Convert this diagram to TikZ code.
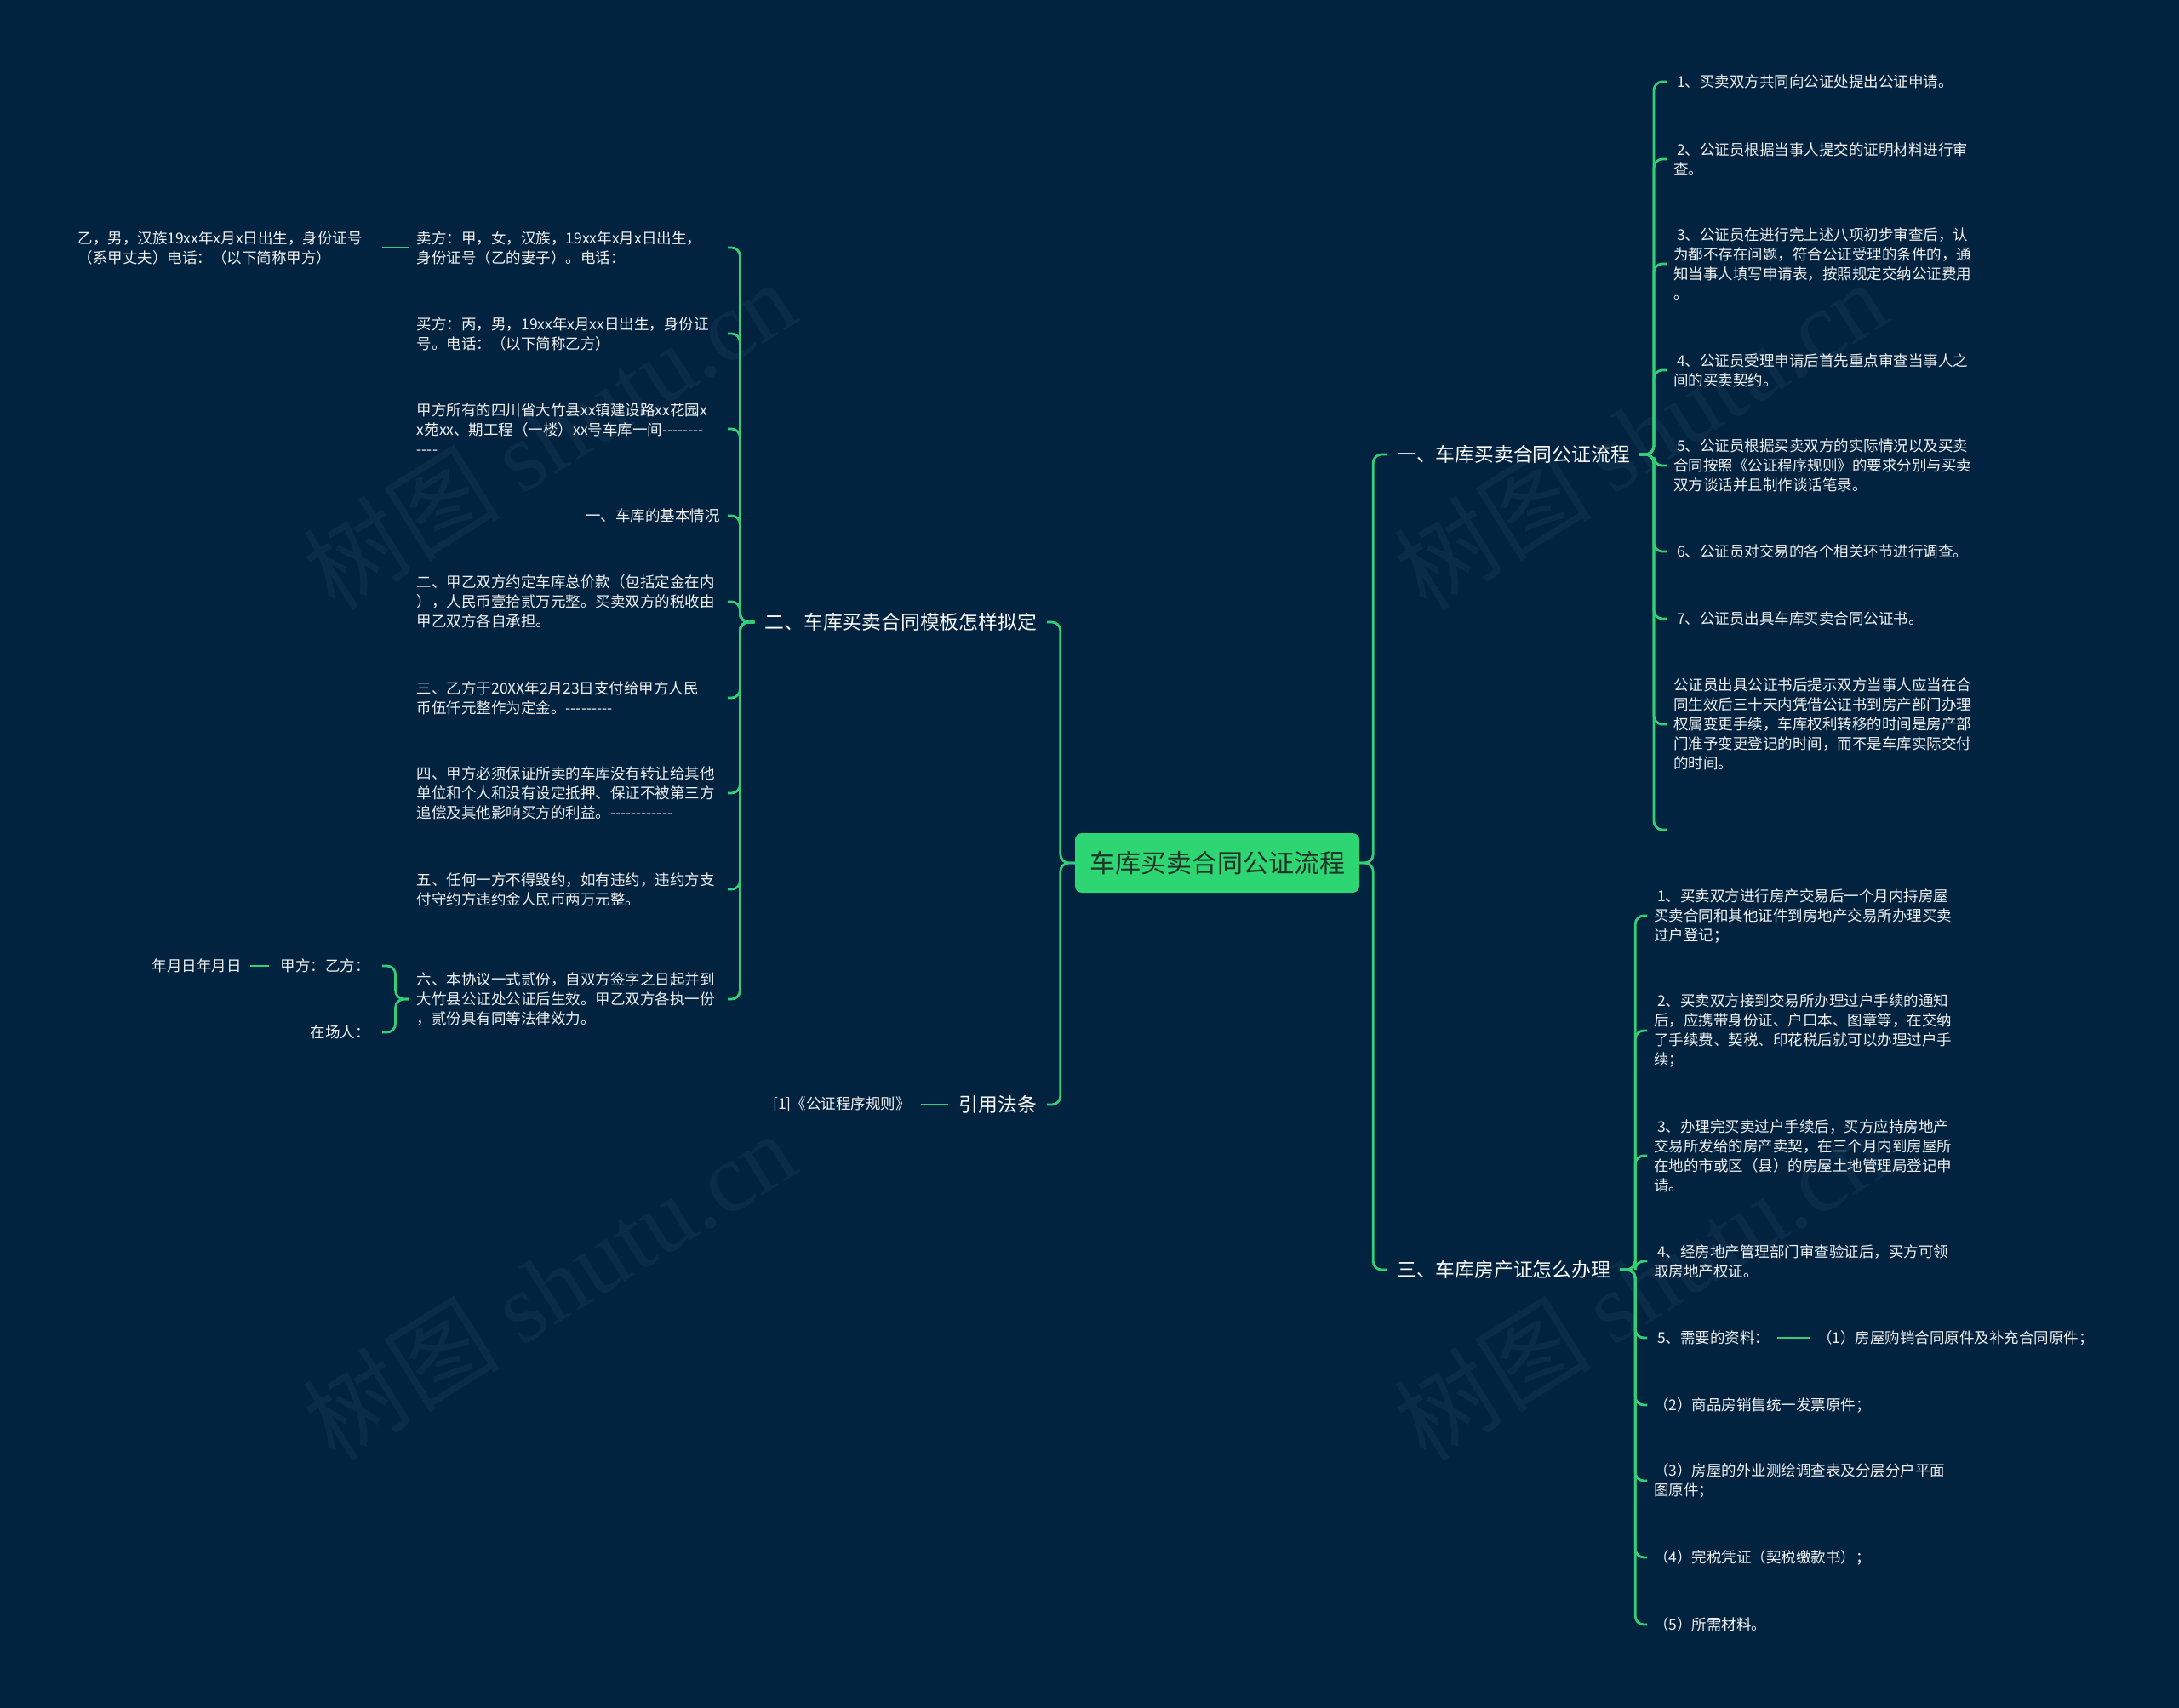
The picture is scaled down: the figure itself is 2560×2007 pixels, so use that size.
\documentclass[tikz,border=0pt]{standalone}
\usepackage{fontspec}
\setmainfont{Noto Sans CJK SC}[Ligatures=TeXOff]
\newfontfamily\wmfont{Liberation Serif}
\definecolor{bg}{RGB}{1,35,64}
\definecolor{ln}{RGB}{52,205,120}
\definecolor{rootfill}{RGB}{46,213,115}
\definecolor{roottext}{RGB}{30,52,40}
\definecolor{txt}{RGB}{240,240,240}
\tikzset{
  conn/.style={draw=ln, line width=2.8pt, rounded corners=10pt},
  leaf/.style={text=txt, font=\fontsize{17.5}{23}\selectfont, inner ysep=2pt, align=left},
  leafR/.style={leaf, anchor=west, inner xsep=8pt},
  leafL/.style={leaf, anchor=east, inner xsep=9pt, text width=356pt},
  leafLs/.style={leaf, anchor=east, inner xsep=9pt},
  leafS/.style={leaf, anchor=east, inner xsep=14pt},
  lvl/.style={text=white, font=\fontsize{22.8}{28}\selectfont, inner ysep=3pt},
  rootbox/.style={fill=rootfill, text=roottext, rounded corners=8pt, minimum width=334pt, minimum height=70pt, font=\fontsize{30}{36}\selectfont, inner sep=0pt},
  wm/.style={text=white, opacity=0.045, font=\fontsize{116}{116}\selectfont, rotate=32}
}
\begin{document}
\begin{tikzpicture}[x=1pt, y=-1pt]
\useasboundingbox (0,0) rectangle (2560,2007);
\fill[bg] (0,0) rectangle (2560,2007);

% watermarks
\node[wm] (w1) at (645,510) {树图 {\wmfont shutu.cn}};
\node[wm] (w2) at (645,1510) {树图 {\wmfont shutu.cn}};
\node[wm] (w3) at (1927,510) {树图 {\wmfont shutu.cn}};
\node[wm] (w4) at (1927,1510) {树图 {\wmfont shutu.cn}};

% root
\node[rootbox] (root) at (1430,1014) {车库买卖合同公证流程};

% level 1
\node[lvl, anchor=west, inner xsep=11pt] (L1) at (1630,534) {一、车库买卖合同公证流程};
\node[lvl, anchor=west, inner xsep=11pt] (L3) at (1630,1492) {三、车库房产证怎么办理};
\node[lvl, anchor=east, inner xsep=12pt] (L2) at (1230,731) {二、车库买卖合同模板怎样拟定};
\node[lvl, anchor=east, inner xsep=12pt] (Lr) at (1230,1298) {引用法条};

% branch 一
\node[leafR] (r1) at (1958,96) {\hspace{4pt}1、买卖双方共同向公证处提出公证申请。};
\node[leafR] (r2) at (1958,187) {\hspace{4pt}2、公证员根据当事人提交的证明材料进行审\\查。};
\node[leafR] (r3) at (1958,310) {\hspace{4pt}3、公证员在进行完上述八项初步审查后，认\\为都不存在问题，符合公证受理的条件的，通\\知当事人填写申请表，按照规定交纳公证费用\\。};
\node[leafR] (r4) at (1958,435) {\hspace{4pt}4、公证员受理申请后首先重点审查当事人之\\间的买卖契约。};
\node[leafR] (r5) at (1958,547) {\hspace{4pt}5、公证员根据买卖双方的实际情况以及买卖\\合同按照《公证程序规则》的要求分别与买卖\\双方谈话并且制作谈话笔录。};
\node[leafR] (r6) at (1958,648) {\hspace{4pt}6、公证员对交易的各个相关环节进行调查。};
\node[leafR] (r7) at (1958,727) {\hspace{4pt}7、公证员出具车库买卖合同公证书。};
\node[leafR] (r8) at (1958,851) {公证员出具公证书后提示双方当事人应当在合\\同生效后三十天内凭借公证书到房产部门办理\\权属变更手续，车库权利转移的时间是房产部\\门准予变更登记的时间，而不是车库实际交付\\的时间。};
\coordinate (r9) at (1958,975);

% branch 三
\node[leafR] (s1) at (1935,1076) {\hspace{4pt}1、买卖双方进行房产交易后一个月内持房屋\\买卖合同和其他证件到房地产交易所办理买卖\\过户登记；};
\node[leafR] (s2) at (1935,1211) {\hspace{4pt}2、买卖双方接到交易所办理过户手续的通知\\后，应携带身份证、户口本、图章等，在交纳\\了手续费、契税、印花税后就可以办理过户手\\续；};
\node[leafR] (s3) at (1935,1358) {\hspace{4pt}3、办理完买卖过户手续后，买方应持房地产\\交易所发给的房产卖契，在三个月内到房屋所\\在地的市或区（县）的房屋土地管理局登记申\\请。};
\node[leafR] (s4) at (1935,1482) {\hspace{4pt}4、经房地产管理部门审查验证后，买方可领\\取房地产权证。};
\node[leafR] (s5) at (1935,1572) {\hspace{4pt}5、需要的资料：};
\node[leafR] (s5a) at (2127,1572) {（1）房屋购销合同原件及补充合同原件；};
\node[leafR] (s6) at (1935,1651) {（2）商品房销售统一发票原件；};
\node[leafR] (s7) at (1935,1740) {（3）房屋的外业测绘调查表及分层分户平面\\图原件；};
\node[leafR] (s8) at (1935,1830) {（4）完税凭证（契税缴款书）；};
\node[leafR] (s9) at (1935,1909) {（5）所需材料。};

% branch 二
\node[leafL] (c1) at (855,291) {卖方：甲，女，汉族，19xx年x月x日出生，\\身份证号（乙的妻子）。电话：};
\node[leafS, inner xsep=23pt] (c1a) at (449,291) {乙，男，汉族19xx年x月x日出生，身份证号\\（系甲丈夫）电话：（以下简称甲方）};
\node[leafL] (c2) at (855,392) {买方：丙，男，19xx年x月xx日出生，身份证\\号。电话：（以下简称乙方）};
\node[leafL] (c3) at (855,504) {甲方所有的四川省大竹县xx镇建设路xx花园x\\x苑xx、期工程（一楼）xx号车库一间--------\\----};
\node[leafLs] (c4) at (855,606) {一、车库的基本情况};
\node[leafL] (c5) at (855,707) {二、甲乙双方约定车库总价款（包括定金在内\\），人民币壹拾贰万元整。买卖双方的税收由\\甲乙双方各自承担。};
\node[leafL] (c6) at (855,820) {三、乙方于20XX年2月23日支付给甲方人民\\币伍仟元整作为定金。---------};
\node[leafL] (c7) at (855,932) {四、甲方必须保证所卖的车库没有转让给其他\\单位和个人和没有设定抵押、保证不被第三方\\追偿及其他影响买方的利益。------------};
\node[leafL] (c8) at (855,1045) {五、任何一方不得毁约，如有违约，违约方支\\付守约方违约金人民币两万元整。};
\node[leafL] (c9) at (855,1174) {六、本协议一式贰份，自双方签字之日起并到\\大竹县公证处公证后生效。甲乙双方各执一份\\，贰份具有同等法律效力。};
\node[leafS] (c9a) at (449,1135) {甲方：乙方：};
\node[leafS] (c9b) at (449,1213) {在场人：};
\node[leafS, inner xsep=10pt] (nian) at (294,1135) {年月日年月日};

% 引用法条
\node[leafLs, inner xsep=12pt] (ref1) at (1082,1298) {[1]《公证程序规则》};

% connectors: root
\draw[conn] (root.east) -- ++(16,0) |- (L1.west);
\draw[conn] (root.east) -- ++(16,0) |- (L3.west);
\draw[conn] (root.west) -- ++(-17,0) |- (L2.east);
\draw[conn] (root.west) -- ++(-17,0) |- (Lr.east);

% branch 一 connectors
\foreach \n in {r1,r2,r3,r4,r5,r6,r7,r8}
  \draw[conn] (L1.east) -- ++(17,0) |- (\n.west);
\draw[conn] (L1.east) -- ++(17,0) |- (r9);

% branch 三 connectors
\foreach \n in {s1,s2,s3,s4,s5,s6,s7,s8,s9}
  \draw[conn] (L3.east) -- ++(18,0) |- (\n.west);
\draw[conn] (s5.east) -- (s5a.west);

% branch 二 connectors
\foreach \n in {c1,c2,c3,c4,c5,c6,c7,c8,c9}
  \draw[conn] (L2.west) -- ++(-17,0) |- (\n.east);
\draw[conn] (c1.west) -- (c1a.east);
\draw[conn] (c9.west) -- ++(-16,0) |- (c9a.east);
\draw[conn] (c9.west) -- ++(-16,0) |- (c9b.east);
\draw[conn] (c9a.west) -- (nian.east);

% 引用法条 connector
\draw[conn] (Lr.west) -- (ref1.east);
\end{tikzpicture}
\end{document}
